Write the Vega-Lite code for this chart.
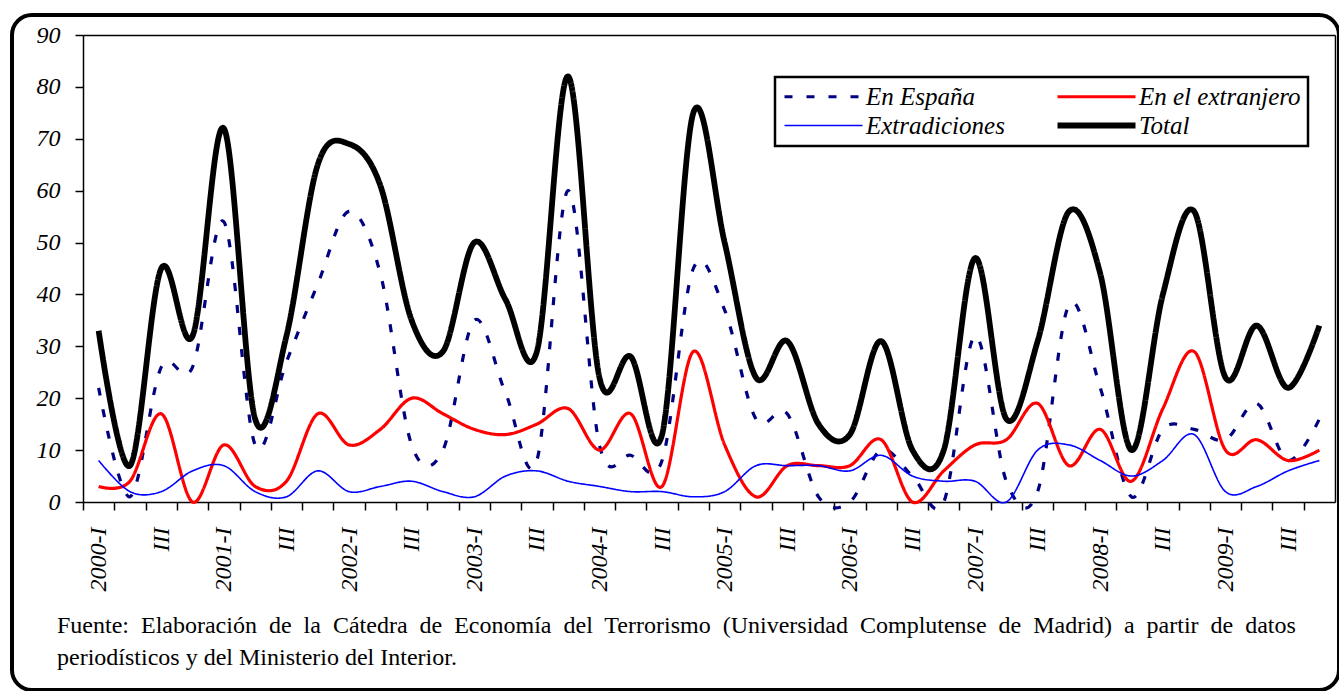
{
  "$schema": "https://vega.github.io/schema/vega-lite/v6.json",
  "width": 1327,
  "height": 675,
  "autosize": "none",
  "padding": {"left": 12, "top": 15, "right": 0, "bottom": 1},
  "background": "white",
  "config": {
    "view": {"stroke": "black", "strokeWidth": 4, "cornerRadius": 20},
    "font": "Liberation Serif",
    "axis": {"domainColor": "black", "tickColor": "black", "labelColor": "black", "domainWidth": 1.5, "tickWidth": 1.5, "grid": false, "title": null}
  },
  "title": {
    "text": ["Fuente:\u00a0 Elaboración\u00a0 de\u00a0 la\u00a0 Cátedra\u00a0 de\u00a0 Economía\u00a0 del\u00a0 Terrorismo\u00a0 (Universidad\u00a0 Complutense\u00a0 de\u00a0 Madrid)\u00a0 a\u00a0 partir\u00a0 de\u00a0 datos", "periodísticos y del Ministerio del Interior."],
    "orient": "bottom", "anchor": "start", "offset": -76, "dx": 45,
    "font": "Liberation Serif", "fontSize": 24, "fontWeight": "normal", "color": "black", "lineHeight": 32
  },
  "data": {
    "values": [
      {"q": "2000-I", "En España": 22, "En el extranjero": 3, "Extradiciones": 8, "Total": 33},
      {"q": "2000-II", "En España": 1, "En el extranjero": 4, "Extradiciones": 2, "Total": 7},
      {"q": "2000-III", "En España": 26, "En el extranjero": 17, "Extradiciones": 2, "Total": 45},
      {"q": "2000-IV", "En España": 26, "En el extranjero": 0, "Extradiciones": 6, "Total": 32},
      {"q": "2001-I", "En España": 54, "En el extranjero": 11, "Extradiciones": 7, "Total": 72},
      {"q": "2001-II", "En España": 11, "En el extranjero": 3, "Extradiciones": 2, "Total": 16},
      {"q": "2001-III", "En España": 27, "En el extranjero": 4, "Extradiciones": 1, "Total": 32},
      {"q": "2001-IV", "En España": 42, "En el extranjero": 17, "Extradiciones": 6, "Total": 65},
      {"q": "2002-I", "En España": 56, "En el extranjero": 11, "Extradiciones": 2, "Total": 69},
      {"q": "2002-II", "En España": 44, "En el extranjero": 14, "Extradiciones": 3, "Total": 61},
      {"q": "2002-III", "En España": 11, "En el extranjero": 20, "Extradiciones": 4, "Total": 35},
      {"q": "2002-IV", "En España": 10, "En el extranjero": 17, "Extradiciones": 2, "Total": 29},
      {"q": "2003-I", "En España": 35, "En el extranjero": 14, "Extradiciones": 1, "Total": 50},
      {"q": "2003-II", "En España": 21, "En el extranjero": 13, "Extradiciones": 5, "Total": 39},
      {"q": "2003-III", "En España": 8, "En el extranjero": 15, "Extradiciones": 6, "Total": 29},
      {"q": "2003-IV", "En España": 60, "En el extranjero": 18, "Extradiciones": 4, "Total": 82},
      {"q": "2004-I", "En España": 11, "En el extranjero": 10, "Extradiciones": 3, "Total": 24},
      {"q": "2004-II", "En España": 9, "En el extranjero": 17, "Extradiciones": 2, "Total": 28},
      {"q": "2004-III", "En España": 8, "En el extranjero": 3, "Extradiciones": 2, "Total": 13},
      {"q": "2004-IV", "En España": 45, "En el extranjero": 29, "Extradiciones": 1, "Total": 75},
      {"q": "2005-I", "En España": 37, "En el extranjero": 11, "Extradiciones": 2, "Total": 50},
      {"q": "2005-II", "En España": 16, "En el extranjero": 1, "Extradiciones": 7, "Total": 24},
      {"q": "2005-III", "En España": 17, "En el extranjero": 7, "Extradiciones": 7, "Total": 31},
      {"q": "2005-IV", "En España": 1, "En el extranjero": 7, "Extradiciones": 7, "Total": 15},
      {"q": "2006-I", "En España": 0, "En el extranjero": 7, "Extradiciones": 6, "Total": 13},
      {"q": "2006-II", "En España": 10, "En el extranjero": 12, "Extradiciones": 9, "Total": 31},
      {"q": "2006-III", "En España": 5, "En el extranjero": 0, "Extradiciones": 5, "Total": 10},
      {"q": "2006-IV", "En España": 0, "En el extranjero": 6, "Extradiciones": 4, "Total": 10},
      {"q": "2007-I", "En España": 32, "En el extranjero": 11, "Extradiciones": 4, "Total": 47},
      {"q": "2007-II", "En España": 4, "En el extranjero": 12, "Extradiciones": 0, "Total": 16},
      {"q": "2007-III", "En España": 2, "En el extranjero": 19, "Extradiciones": 10, "Total": 31},
      {"q": "2007-IV", "En España": 38, "En el extranjero": 7, "Extradiciones": 11, "Total": 56},
      {"q": "2008-I", "En España": 22, "En el extranjero": 14, "Extradiciones": 8, "Total": 44},
      {"q": "2008-II", "En España": 1, "En el extranjero": 4, "Extradiciones": 5, "Total": 10},
      {"q": "2008-III", "En España": 14, "En el extranjero": 18, "Extradiciones": 8, "Total": 40},
      {"q": "2008-IV", "En España": 14, "En el extranjero": 29, "Extradiciones": 13, "Total": 56},
      {"q": "2009-I", "En España": 12, "En el extranjero": 10, "Extradiciones": 2, "Total": 24},
      {"q": "2009-II", "En España": 19, "En el extranjero": 12, "Extradiciones": 3, "Total": 34},
      {"q": "2009-III", "En España": 8, "En el extranjero": 8, "Extradiciones": 6, "Total": 22},
      {"q": "2009-IV", "En España": 16, "En el extranjero": 10, "Extradiciones": 8, "Total": 34}
    ]
  },
  "transform": [
    {"fold": ["En España", "En el extranjero", "Extradiciones", "Total"], "as": ["serie", "valor"]}
  ],
  "layer": [
    {
      "mark": {"type": "line", "interpolate": "cardinal"},
      "encoding": {
        "x": {"field": "q", "type": "ordinal", "sort": null,
          "scale": {"type": "band", "range": [71, 1323], "paddingInner": 0, "paddingOuter": 0},
          "axis": {"orient": "bottom", "offset": -188, "tickSize": 8, "tickOffset": -15.65, "labelOffset": 15.65,
            "labelAngle": -90, "labelAlign": "right", "labelBaseline": "middle", "labelPadding": 17,
            "labelFont": "Liberation Serif", "labelFontSize": 24, "labelFontStyle": "italic",
            "labelOverlap": false,
            "labelExpr": "slice(datum.label, -2) === '-I' ? datum.label : (slice(datum.label, -4) === '-III' ? 'III' : '')"}},
        "y": {"field": "valor", "type": "quantitative",
          "scale": {"domain": [0, 90], "range": [487, 20], "nice": false, "zero": true},
          "axis": {"orient": "left", "offset": -71, "values": [0, 10, 20, 30, 40, 50, 60, 70, 80, 90], "tickSize": 8,
            "labelPadding": 15, "labelFont": "Liberation Serif", "labelFontSize": 24, "labelFontStyle": "italic"}},
        "color": {"field": "serie", "type": "nominal", "sort": null,
          "scale": {"domain": ["En España", "En el extranjero", "Extradiciones", "Total"], "range": ["#000080", "#FF0000", "#0000FF", "#000000"]},
          "legend": {"title": null, "orient": "none", "legendX": 763, "legendY": 62, "columns": 2, "direction": "horizontal",
            "symbolType": "M-7.8,0H7.8", "symbolSize": 100, "symbolOffset": 29, "labelOffset": 30,
            "labelFont": "Liberation Serif", "labelFontSize": 25, "labelFontStyle": "italic", "labelColor": "black",
            "padding": 7, "strokeColor": "black", "fillColor": "white",
            "columnPadding": 40, "rowPadding": 3, "labelLimit": 400,
            "encode": {
              "legend": {"update": {"strokeWidth": {"value": 2.5}}},
              "symbols": {"update": {
                "strokeDash": {"signal": "datum.value === 'En España' ? [8, 14] : [1, 0]"},
                "strokeWidth": {"signal": "datum.value === 'Total' ? 5.8 : (datum.value === 'Extradiciones' ? 1.6 : 3.2)"}
              }}}}},
        "strokeWidth": {"condition": [{"test": "datum.serie === 'Total'", "value": 5.8}, {"test": "datum.serie === 'Extradiciones'", "value": 1.6}], "value": 3.2},
        "strokeDash": {"condition": {"test": "datum.serie === 'En España'", "value": [8, 14]}, "value": [1, 0]}
      }
    },
    {
      "mark": {"type": "point", "opacity": 0},
      "encoding": {
        "x": {"field": "q", "type": "ordinal", "sort": null,
          "axis": {"orient": "top", "offset": -20, "labels": false, "ticks": false, "domain": true}},
        "y": {"field": "valor", "type": "quantitative",
          "axis": {"orient": "right", "offset": -4, "labels": false, "ticks": false, "domain": true}}
      }
    }
  ],
  "resolve": {"axis": {"x": "independent", "y": "independent"}}
}
